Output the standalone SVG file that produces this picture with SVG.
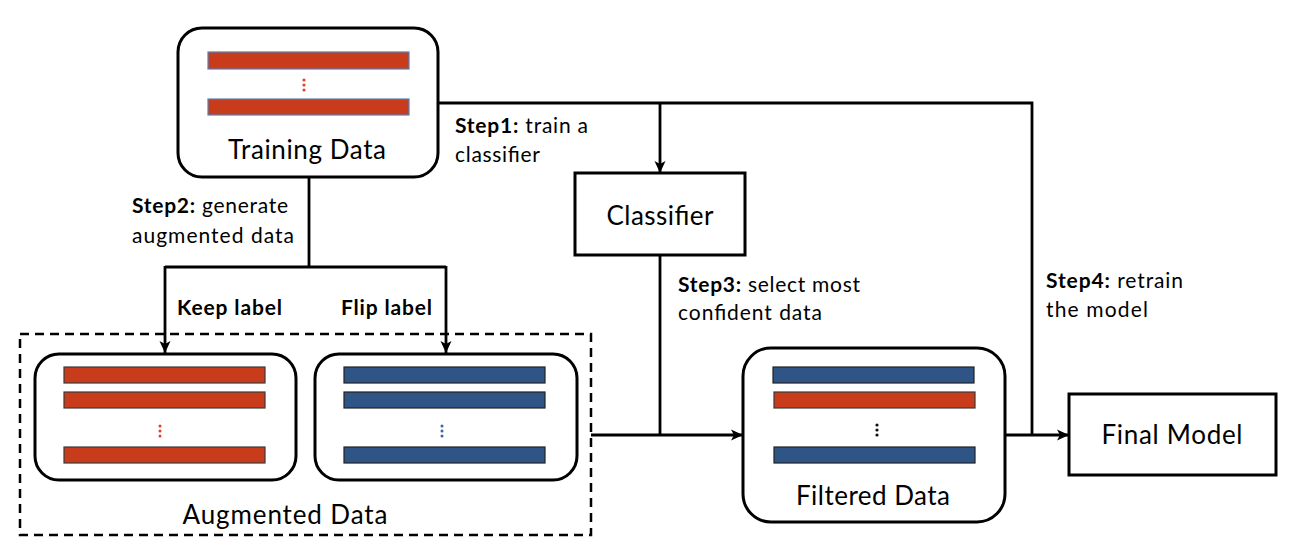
<svg xmlns="http://www.w3.org/2000/svg" width="1290" height="546" viewBox="0 0 1290 546">
<style>
.box{fill:#fff;stroke:#000;stroke-width:3}
.line{fill:none;stroke:#000;stroke-width:2.8}
.arr{marker-end:url(#ah)}
.lbl{font-family:Lato,"Open Sans",sans-serif;font-size:26px;fill:#000;text-anchor:middle}
.step{font-family:Lato,"Open Sans",sans-serif;font-size:21px;fill:#000}
.b{font-weight:bold}
.red{fill:#C83C1B;stroke:#3a3a3a;stroke-width:1.2}
.redt{fill:#C83C1B;stroke:#5A7FB5;stroke-width:1.2}
.blue{fill:#2E5586;stroke:#222;stroke-width:1.2}
</style>
<defs>
<marker id="ah" markerUnits="userSpaceOnUse" markerWidth="14" markerHeight="14" refX="13" refY="7" orient="auto">
<path d="M1,1.5 L13,7 L1,12.5 L4,7 z" fill="#000"/>
</marker>
</defs>
<g id="connectors">
<path class="line" d="M438,103 H1032 V435"/>
<path class="line arr" d="M660,103 V173"/>
<path class="line" d="M309,177 V267 M165,267 H446"/>
<path class="line arr" d="M165,266 V353"/>
<path class="line arr" d="M446,266 V353"/>
<path class="line" d="M660,255 V435"/>
<path class="line arr" d="M591,435 H743"/>
<path class="line arr" d="M1005,435 H1069"/>
</g>
<g id="training-data">
<rect class="box" x="178" y="28" width="260" height="149" rx="24"/>
<rect class="redt" x="208" y="52" width="201" height="17"/>
<rect class="redt" x="208" y="99" width="201" height="16"/>
<circle cx="304" cy="80" r="1.6" fill="#D9482A"/>
<circle cx="304" cy="85" r="1.6" fill="#D9482A"/>
<circle cx="304" cy="90" r="1.6" fill="#D9482A"/>
<text class="lbl" x="307" y="159" textLength="158">Training Data</text>
</g>
<g id="classifier">
<rect class="box" x="575" y="173" width="170" height="82"/>
<text class="lbl" x="660" y="225" textLength="107">Classifier</text>
</g>
<g id="augmented-data">
<rect x="20" y="334" width="571" height="201" fill="none" stroke="#000" stroke-width="2.5" stroke-dasharray="9,6"/>
<text class="lbl" x="285" y="524" textLength="205">Augmented Data</text>
</g>
<g id="keep-label-data">
<rect class="box" x="35" y="354" width="261" height="126" rx="24"/>
<rect class="red" x="64" y="367" width="201" height="16"/>
<rect class="red" x="64" y="392" width="201" height="16"/>
<rect class="red" x="64" y="447" width="201" height="16"/>
<circle cx="160" cy="426" r="1.5" fill="#E0402A"/>
<circle cx="160" cy="431" r="1.5" fill="#E0402A"/>
<circle cx="160" cy="436" r="1.5" fill="#E0402A"/>
</g>
<g id="flip-label-data">
<rect class="box" x="315" y="354" width="262" height="126" rx="24"/>
<rect class="blue" x="344" y="367" width="201" height="16"/>
<rect class="blue" x="344" y="392" width="201" height="16"/>
<rect class="blue" x="344" y="447" width="201" height="16"/>
<circle cx="442" cy="426" r="1.5" fill="#3A64A8"/>
<circle cx="442" cy="431" r="1.5" fill="#3A64A8"/>
<circle cx="442" cy="436" r="1.5" fill="#3A64A8"/>
</g>
<g id="filtered-data">
<rect class="box" x="743" y="348" width="262" height="174" rx="28"/>
<rect class="blue" x="773" y="367" width="201" height="16"/>
<rect class="red" x="774" y="392" width="201" height="16"/>
<rect class="blue" x="774" y="447" width="201" height="16"/>
<circle cx="877" cy="425" r="1.6" fill="#111"/>
<circle cx="877" cy="430" r="1.6" fill="#111"/>
<circle cx="877" cy="435" r="1.6" fill="#111"/>
<text class="lbl" x="873" y="505" textLength="154">Filtered Data</text>
</g>
<g id="final-model">
<rect class="box" x="1069" y="394" width="207" height="81"/>
<text class="lbl" x="1172" y="444" textLength="141">Final Model</text>
</g>
<g id="labels">
<text class="step" x="455" y="133" textLength="133"><tspan class="b">Step1:</tspan> train a</text>
<text class="step" x="455" y="162" textLength="85">classifier</text>
<text class="step" x="132" y="213" textLength="156"><tspan class="b">Step2:</tspan> generate</text>
<text class="step" x="132" y="243" textLength="162">augmented data</text>
<text class="step b" x="177" y="315" textLength="105">Keep label</text>
<text class="step b" x="341" y="315" textLength="91">Flip label</text>
<text class="step" x="678" y="292" textLength="182"><tspan class="b">Step3:</tspan> select most</text>
<text class="step" x="678" y="320" textLength="144">confident data</text>
<text class="step" x="1046" y="288" textLength="137"><tspan class="b">Step4:</tspan> retrain</text>
<text class="step" x="1046" y="317" textLength="102">the model</text>
</g>
</svg>
